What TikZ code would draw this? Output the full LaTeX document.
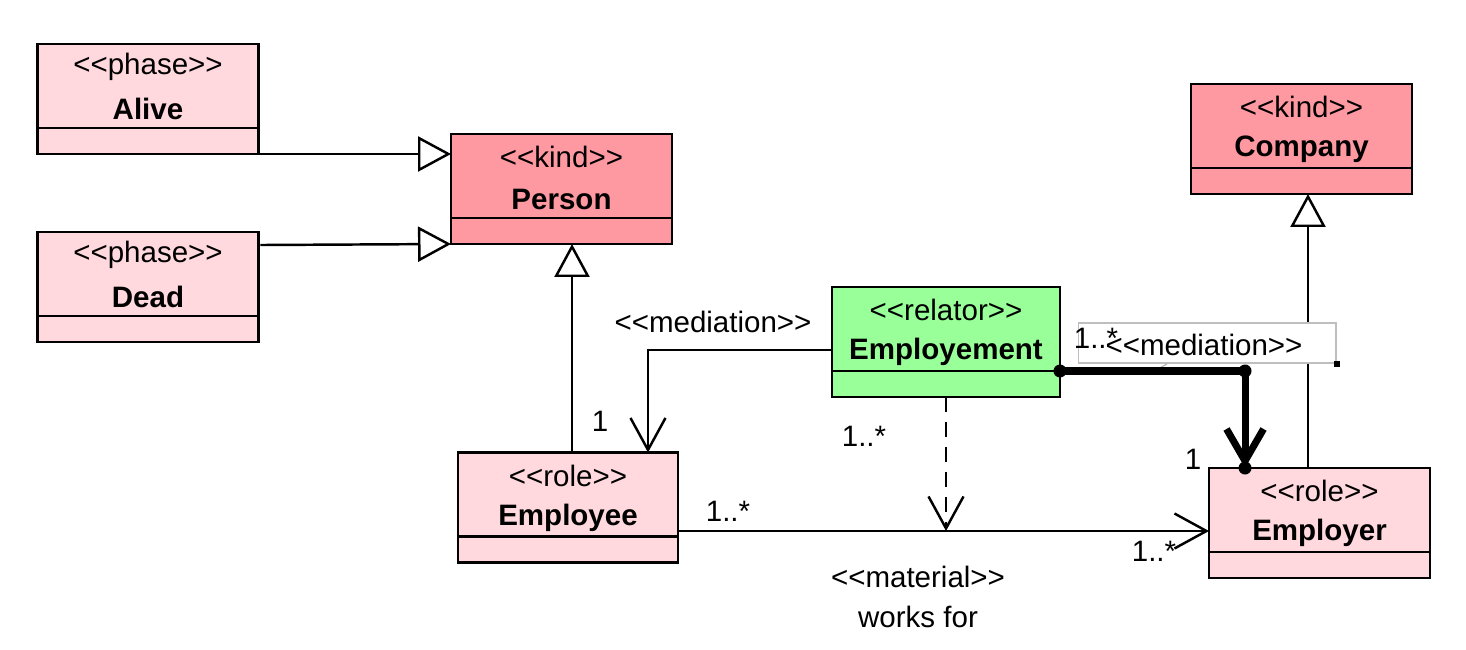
\documentclass[tikz,border=0pt]{standalone}
\usepackage{fontspec}
\setmainfont{Liberation Sans}[Ligatures=TeXOff]
\usetikzlibrary{arrows.meta}
\definecolor{kindred}{HTML}{FF99A1}
\definecolor{rolepink}{HTML}{FFD9DD}
\definecolor{relgreen}{HTML}{99FF99}
\begin{document}
\begin{tikzpicture}[x=0.02cm, y=-0.02cm,
	every node/.style={font=\fontsize{16.8}{20}\selectfont, inner sep=0pt},
	umlbox/.style={draw, line width=1.6pt, outer sep=0pt, minimum height=2.2cm},
	title/.style={font=\fontsize{16.8}{20}\selectfont\bfseries},
	gen/.style={line width=1.4pt, -{Triangle[open, length=0.66cm, width=0.7cm, fill=white]}},
	assoc/.style={line width=1.4pt, -{Straight Barb[length=0.64cm, width=0.7cm]}},
	heavy/.style={line width=4pt, -{Straight Barb[length=0.64cm, width=0.74cm]}},
	dot/.style={circle, fill, minimum size=0.26cm}]
				\useasboundingbox (0,0) rectangle (1466,649);
				\foreach \nm/\x/\y/\w/\st/\ti/\col in {
					alive/148/99/4.42/phase/Alive/rolepink,
					dead/148/287/4.42/phase/Dead/rolepink,
					person/561.5/189/4.42/kind/Person/kindred,
					company/1301.5/139/4.42/kind/Company/kindred,
					employement/946/342/4.56/relator/Employement/relgreen,
					employee/568/507.5/4.4/role/Employee/rolepink,
					employer/1319.5/523/4.42/role/Employer/rolepink} {
					\node[umlbox, fill=\col, minimum width=\w cm] (\nm) at (\x,\y) {};
					\draw[line width=1.6pt] ([yshift=-1.68cm]\nm.north west) -- ([yshift=-1.68cm]\nm.north east);
					\node (\nm-st) at ([yshift=-0.46cm]\nm.north) {<<\st>>};
					\node[title] (\nm-ti) at ([yshift=-1.3cm]\nm.north) {\ti};
				}
				\draw[gen] ([xshift=0.04cm]alive.south east) -- (alive.south east -| person.west);
				\draw[gen] ([shift={(0.04cm,-0.26cm)}]dead.north east) -- (person.south west);
				\coordinate (empup) at ([xshift=0.08cm]employee.north);
				\draw[gen] (empup) -- (empup |- person.south);
				\coordinate (emprup) at ([xshift=-0.23cm]employer.north);
				\draw[gen] (emprup) -- (emprup |- company.south);
				\draw[assoc] ([yshift=-0.16cm]employement.west) -| ([xshift=1.6cm]employee.north);
				\coordinate (empeast) at ([yshift=-0.47cm]employee.east);
				\draw[assoc] (empeast) -- (empeast -| employer.west);
				\coordinate (matmid) at (empeast -| employement.south);
				\draw[assoc, dashed, dash pattern=on 0.3cm off 0.2cm] (employement.south) -- (matmid);
				\node[draw=black!25, fill=white, line width=0.6pt, minimum width=5.16cm, minimum height=0.8cm] (medlab) at (1207,343) {};
				\node[fill, minimum size=0.12cm] (medhandle) at (medlab.south east) {};
				\draw[black!30, line width=0.6pt] (1154,371) -- (1167,364);
				\coordinate (relout) at ([yshift=-0.58cm]employement.east);
				\coordinate (bend) at ([xshift=-1.49cm]employer.north |- relout);
				\draw[heavy] (relout) -- (bend) -- ([xshift=-1.49cm]employer.north);
				\node[dot] (d1) at (relout) {};
				\node[dot] (d2) at (bend) {};
				\node[dot] (d3) at ([xshift=-1.49cm]employer.north) {};
				\node (medl) at (713,322) {<<mediation>>};
				\node (medr) at (1204,345) {<<mediation>>};
				\node (mr1) at (1096,338) {1..*};
				\node (m1) at (600,421) {1};
				\node (m2) at (864,436) {1..*};
				\node (m3) at (728,511) {1..*};
				\node (m4) at (1154,551) {1..*};
				\node (m5) at (1193,459) {1};
				\node (matl) at (918,577) {<<material>>};
				\node (works) at (918,617) {works for};
			\end{tikzpicture}
\end{document}
